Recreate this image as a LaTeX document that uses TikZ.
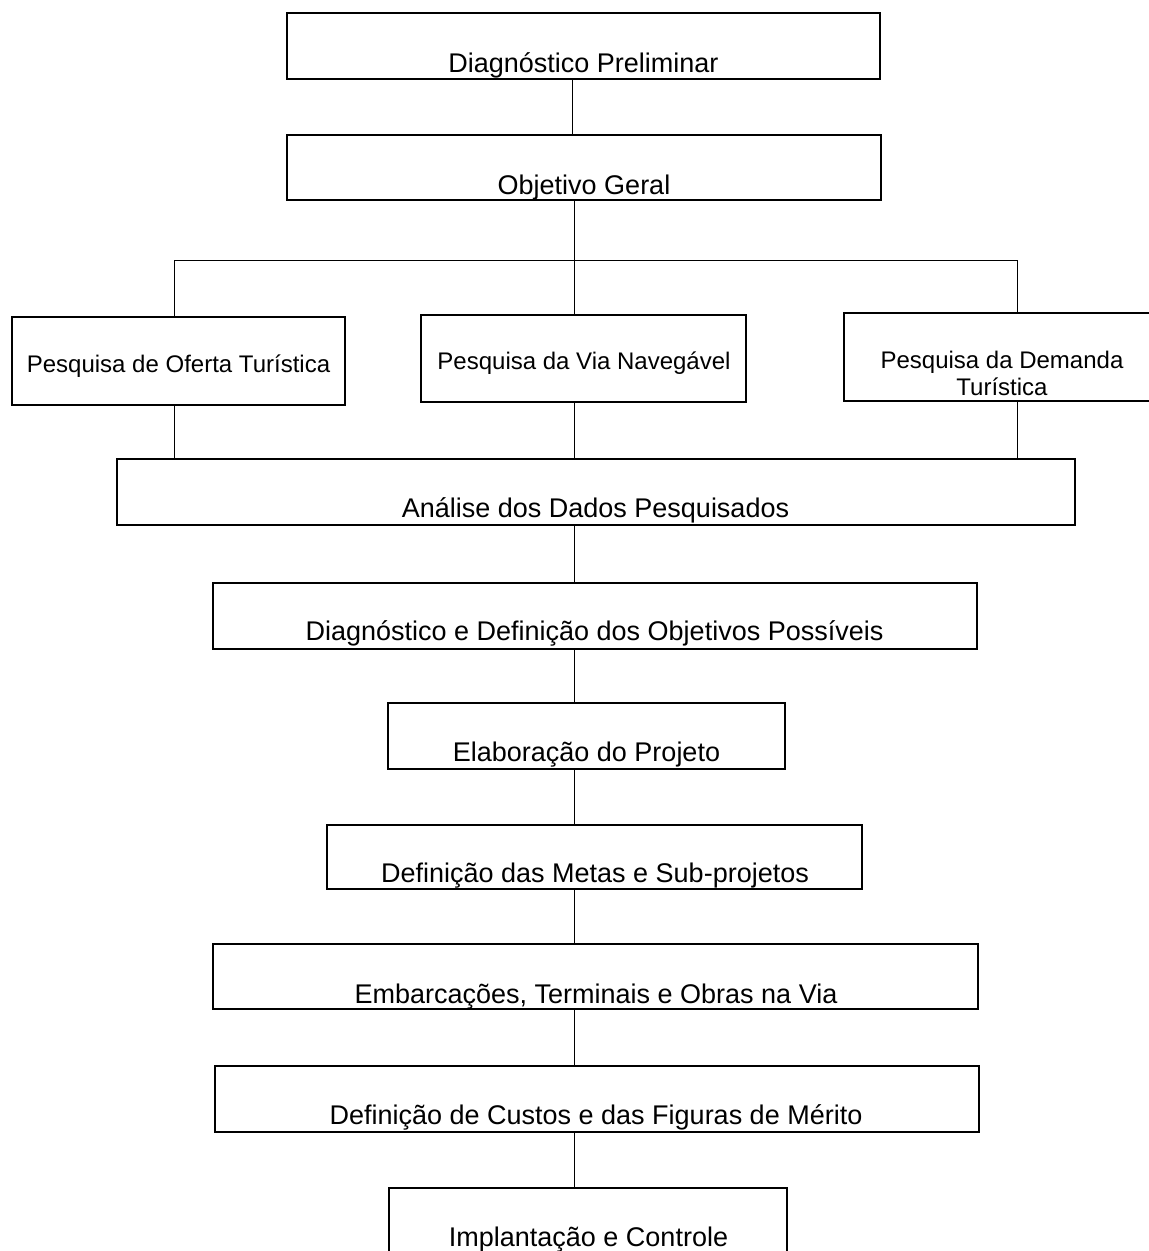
\documentclass[tikz,border=0pt]{standalone}
\usepackage{fontspec}
\setmainfont{Liberation Sans}
\usetikzlibrary{calc}

\tikzset{
  box/.style={draw, line width=1.4pt, inner sep=0pt},
  pbox/.style={draw, line width=2.2pt, inner sep=0pt},
  txt/.style={anchor=base, inner sep=0pt, font=\fontsize{27}{32}\selectfont},
  ptxt/.style={inner sep=0pt, font=\fontsize{24}{27}\selectfont},
  conn/.style={line width=1pt}
}

\begin{document}
\begin{tikzpicture}[x=1pt, y=-1pt]
        \useasboundingbox (0,0) rectangle (1149,1251);
        \clip (0,0) rectangle (1149,1251);
        % boxes
        \node[box, minimum width=593, minimum height=66] (diag) at (583.5,46) {};
        \node[box, minimum width=594, minimum height=65] (obj) at (584,167.5) {};
        \node[pbox, minimum width=333, minimum height=88] (oferta) at (178.5,361) {};
        \node[pbox, minimum width=325, minimum height=87] (via) at (583.5,358.5) {};
        \node[pbox, minimum width=356, minimum height=88] (demanda) at (1022,357) {};
        \node[box, minimum width=958, minimum height=66] (analise) at (596,492) {};
        \node[box, minimum width=764, minimum height=66] (objpos) at (595,616) {};
        \node[box, minimum width=397, minimum height=66] (elab) at (586.5,736) {};
        \node[box, minimum width=535, minimum height=64] (metas) at (594.5,857) {};
        \node[box, minimum width=765, minimum height=65] (embarc) at (595.5,976.5) {};
        \node[box, minimum width=764, minimum height=66] (custos) at (597,1099) {};
        \node[box, minimum width=398, minimum height=90] (impl) at (588,1233) {};
        % texts
        \node[txt] (tdiag) at (583.5,72) {Diagnóstico Preliminar};
        \node[txt] (tobj) at (584,194) {Objetivo Geral};
        \node[ptxt, anchor=base] (toferta) at (178.5,372) {Pesquisa de Oferta Turística};
        \node[ptxt, anchor=base] (tvia) at (584,369) {Pesquisa da Via Navegável};
        \node[ptxt, align=center] (tdemanda) at (1002,373) {Pesquisa da Demanda\\Turística};
        \node[txt] (tanalise) at (595.5,517) {Análise dos Dados Pesquisados};
        \node[txt] (tobjpos) at (594.5,640) {Diagnóstico e Definição dos Objetivos Possíveis};
        \node[txt] (telab) at (586.5,761) {Elaboração do Projeto};
        \node[txt] (tmetas) at (595,882) {Definição das Metas e Sub-projetos};
        \node[txt] (tembarc) at (596,1003) {Embarcações, Terminais e Obras na Via};
        \node[txt] (tcustos) at (596,1124) {Definição de Custos e das Figuras de Mérito};
        \node[txt] (timpl) at (588.5,1246) {Implantação e Controle};
        % connectors
        \coordinate (xt) at (572,0);
        \coordinate (xl) at (174,0);
        \coordinate (xm) at (574,0);
        \coordinate (xr) at (1017,0);
        \coordinate (bus) at (0,260);
        \draw[conn] (diag.south -| xt) -- (obj.north -| xt);
        \draw[conn] (obj.south -| xm) -- (bus -| xm);
        \draw[conn] (oferta.north -| xl) -- (bus -| xl) -- (bus -| xr) -- (demanda.north -| xr);
        \draw[conn] (bus -| xm) -- (via.north -| xm);
        \draw[conn] (oferta.south -| xl) -- (analise.north -| xl);
        \draw[conn] (via.south -| xm) -- (analise.north -| xm);
        \draw[conn] (demanda.south -| xr) -- (analise.north -| xr);
        \draw[conn] (analise.south -| xm) -- (objpos.north -| xm);
        \draw[conn] (objpos.south -| xm) -- (elab.north -| xm);
        \draw[conn] (elab.south -| xm) -- (metas.north -| xm);
        \draw[conn] (metas.south -| xm) -- (embarc.north -| xm);
        \draw[conn] (embarc.south -| xm) -- (custos.north -| xm);
        \draw[conn] (custos.south -| xm) -- (impl.north -| xm);
      \end{tikzpicture}
\end{document}
